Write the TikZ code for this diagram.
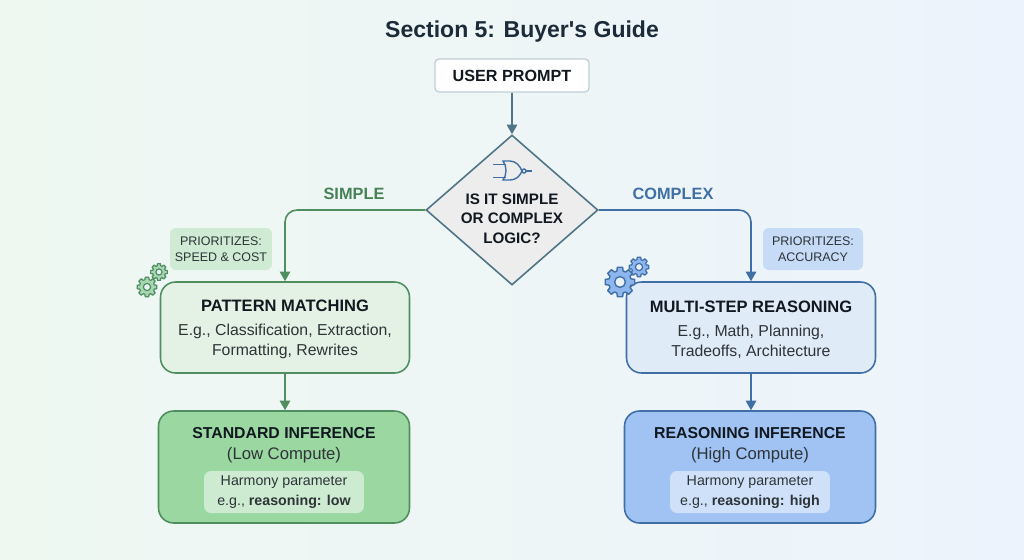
\documentclass[tikz,border=0pt]{standalone}
\usepackage{fontspec}
\setmainfont{Liberation Sans}
\usepackage{xcolor}
\usetikzlibrary{shapes,arrows.meta,positioning}
\definecolor{inkdark}{HTML}{111820}
\definecolor{inkbody}{HTML}{2E3338}
\definecolor{titleink}{HTML}{1C2B3A}
\definecolor{slateline}{HTML}{4F7487}
\definecolor{greenline}{HTML}{4F8F5F}
\definecolor{blueline}{HTML}{3F6FA5}
\definecolor{greenpale}{HTML}{E3F2E5}
\definecolor{bluepale}{HTML}{E0EBF8}
\definecolor{greenfull}{HTML}{9BD7A1}
\definecolor{bluefull}{HTML}{A0C3F3}
\definecolor{greentag}{HTML}{CFEBD4}
\definecolor{bluetag}{HTML}{C5DBF6}
\definecolor{bgleft}{HTML}{EEF8F1}
\definecolor{bgmid}{HTML}{F1F8FA}
\definecolor{bgright}{HTML}{EDF3FC}
\definecolor{greengear}{HTML}{A9D6B2}
\definecolor{bluegear}{HTML}{8DB6EE}
\definecolor{gearhole}{HTML}{EAF3F4}
\newcommand{\fsize}[1]{\fontsize{#1}{#1}\selectfont}

\begin{document}
\begin{tikzpicture}[
    x=0.02cm, y=-0.02cm,
    promptbox/.style={rectangle, draw=slateline!35, fill=white, rounded corners=0.08cm, line width=0.7pt, minimum width=3.08cm, minimum height=0.66cm, font=\fsize{9.2}\bfseries, text=inkdark},
    decision/.style={diamond, draw=slateline, fill=black!7!white, line width=0.9pt, minimum width=3.44cm, minimum height=3.0cm, inner sep=0pt},
    midbox/.style={rectangle, rounded corners=0.3cm, line width=0.9pt, minimum width=4.98cm, minimum height=1.82cm},
    midtext/.style={align=center, font=\fsize{9}, text=inkbody, inner sep=0pt},
    endbox/.style={rectangle, rounded corners=0.3cm, line width=0.9pt, minimum width=5.02cm, minimum height=2.24cm},
    tagbox/.style={rectangle, rounded corners=0.12cm, align=center, minimum height=0.84cm, inner sep=0pt, font=\fsize{7.1}, text=inkbody},
    parambox/.style={rectangle, rounded corners=0.14cm, fill=white, fill opacity=0.5, text opacity=1, align=center, minimum width=3.2cm, minimum height=0.84cm, inner sep=0pt, font=\fsize{8.1}, text=inkbody},
    endtext/.style={align=center, font=\fsize{9.5}, text=inkbody, inner sep=0pt},
    branch/.style={font=\fsize{9.3}\bfseries},
    arrow/.style={-{Triangle[length=5.5pt,width=6pt]}, line width=0.9pt},
    gear/.pic={
        \path[pic actions, line join=round] (-16:7.6)
            \foreach \a in {0,45,...,315} {
                -- (\a-10:10) -- (\a+10:10) -- (\a+16:7.6) -- (\a+29:7.6)
            } -- cycle;
        \path[pic actions, fill=gearhole] (0,0) circle (3.6);
    }
]
    % Background
    \path[left color=bgleft, middle color=bgmid, right color=bgright] (0,0) rectangle (1024,559);
    \useasboundingbox (0,0) rectangle (1024,559);

    \node[font=\fsize{13.1}\bfseries, text=titleink] (title) at (522,32) {Section 5: Buyer\textquotesingle s Guide};

    % Top of the flow
    \node[promptbox] (prompt) at (512,75.5) {USER PROMPT};
    \node[decision] (check) at (512,210) {};
    \node[align=center, font=\fsize{8.65}\bfseries, text=inkdark, inner sep=0pt] (checktext) at (512,218.5) {IS IT SIMPLE\\[2.4pt]OR COMPLEX\\[2.4pt]LOGIC?};

    % NOR gate
    \draw[blueline, line width=0.8pt] (503,161) -- (510,161) .. controls (516,161) and (520,166) .. (522,171) .. controls (520,176) and (516,180) .. (510,180) -- (503,180) .. controls (507,175) and (507,166) .. (503,161) -- cycle;
    \draw[blueline, line width=0.8pt] (493,164.5) -- (505.5,164.5) (493,177.5) -- (505.5,177.5) (526,171) -- (532,171);
    \draw[blueline, line width=0.8pt] (524,171) circle (2);

    % Boxes
    \node[midbox, draw=greenline, fill=greenpale] (pattern) at (285,327.5) {};
    \node[midbox, draw=blueline, fill=bluepale] (multi) at (751,327.5) {};
    \node[endbox, draw=greenline, fill=greenfull] (standard) at (284,467) {};
    \node[endbox, draw=blueline, fill=bluefull] (reasoning) at (750,467) {};

    \node[midtext] (patterntext) at (285,329.5) {{\fsize{9.4}\bfseries\color{inkdark}PATTERN MATCHING}\\[4.6pt]E.g., Classification, Extraction,\\[2.3pt]Formatting, Rewrites};
    \node[midtext] (multitext) at (751,329.5) {{\fsize{9.4}\bfseries\color{inkdark}MULTI-STEP REASONING}\\[4.6pt]E.g., Math, Planning,\\[2.3pt]Tradeoffs, Architecture};
    \node[endtext] (standardtext) at (284,445) {{\fsize{9}\bfseries\color{inkdark}STANDARD INFERENCE}\\[2.4pt](Low Compute)};
    \node[endtext] (reasoningtext) at (750,445) {{\fsize{9}\bfseries\color{inkdark}REASONING INFERENCE}\\[2.4pt](High Compute)};
    \node[parambox] (standardparam) at (284,492) {Harmony parameter\\[3.2pt]e.g., \textbf{reasoning: low}};
    \node[parambox] (reasoningparam) at (750,492) {Harmony parameter\\[3.2pt]e.g., \textbf{reasoning: high}};

    % Tags
    \node[tagbox, fill=greentag, minimum width=2.04cm] (speedtag) at (221,249) {PRIORITIZES:\\[2.3pt]SPEED \& COST};
    \node[tagbox, fill=bluetag, minimum width=2.0cm] (accuracytag) at (813,249) {PRIORITIZES:\\[2.3pt]ACCURACY};

    % Gears
    \pic[draw=greenline, fill=greengear, line width=0.7pt] at (147,287) {gear};
    \pic[draw=greenline, fill=greengear, line width=0.7pt, scale=0.85] at (159,272) {gear};
    \pic[draw=blueline, fill=bluegear, line width=0.7pt] at (639,267) {gear};
    \pic[draw=blueline, fill=bluegear, line width=0.8pt, scale=1.5] at (620,282) {gear};

    % Arrows
    \draw[arrow, slateline] (prompt) -- (check);
    \draw[arrow, greenline, rounded corners=0.24cm] (check.west) -| (pattern.north);
    \draw[arrow, blueline, rounded corners=0.24cm] (check.east) -| (multi.north);
    \draw[arrow, greenline] (pattern) -- (pattern |- standard.north);
    \draw[arrow, blueline] (multi) -- (multi |- reasoning.north);

    % Branch labels
    \node[branch, text=greenline!90!black] (simple) at (354,194) {SIMPLE};
    \node[branch, text=blueline] (complex) at (673,194) {COMPLEX};
\end{tikzpicture}
\end{document}
